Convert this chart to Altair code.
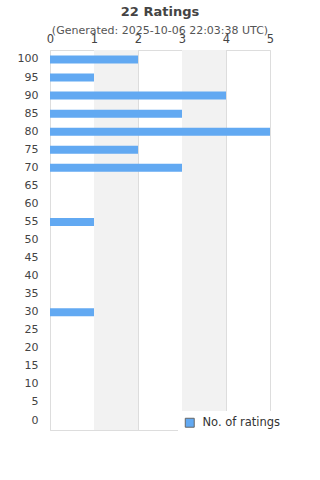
import altair as alt
import pandas as pd

ratings = [100, 95, 90, 85, 80, 75, 70, 65, 60, 55, 50, 45, 40, 35, 30, 25, 20, 15, 10, 5, 0]
counts = [2, 1, 4, 3, 5, 2, 3, 0, 0, 1, 0, 0, 0, 0, 1, 0, 0, 0, 0, 0, 0]
band_start = [1, 3]
band_end = [2, 4]
series_name = "No. of ratings"
title_text = "22 Ratings"
subtitle_text = "(Generated: 2025-10-06 22:03:38 UTC)"

df = pd.DataFrame({"rating": [str(r) for r in ratings], "count": counts, "series": series_name})
bands = pd.DataFrame({"start": band_start, "end": band_end})

font = "DejaVu Sans"
order = [str(r) for r in ratings]

xscale = alt.Scale(domain=[0, 5], nice=False)
xaxis = alt.Axis(orient="top", values=[0, 1, 2, 3, 4, 5], title=None, domain=False, ticks=False,
                 grid=True, gridColor="#dddddd", labelColor="#444444", labelFont=font,
                 labelFontSize=11.5, labelPadding=6, labelFlush=False, format="d")

bg = alt.Chart(bands).mark_rect(color="#f2f2f2").encode(
    x=alt.X("start:Q", scale=xscale, axis=xaxis),
    x2="end:Q",
)

bars = alt.Chart(df).mark_bar(size=8).encode(
    x=alt.X("count:Q", scale=xscale, axis=xaxis),
    y=alt.Y("rating:N", sort=order,
            scale=alt.Scale(paddingInner=0.55, paddingOuter=0.3),
            axis=alt.Axis(title=None, domain=True, domainColor="#dddddd", ticks=False,
                          labelColor="#444444", labelFont=font, labelFontSize=11, labelPadding=12)),
    color=alt.Color("series:N", scale=alt.Scale(range=["#62a9f2"]),
                    legend=alt.Legend(title=None, orient="none", legendX=128, legendY=361,
                                      fillColor="white", padding=6, symbolType="square",
                                      symbolStrokeColor="#666666", symbolStrokeWidth=1, symbolSize=80,
                                      labelOffset=7, labelFont=font, labelFontSize=11.5,
                                      labelColor="#333333")),
)

title = alt.Chart(df.head(1)).mark_text(font=font, fontSize=13, fontWeight="bold", color="#444444").encode(
    x=alt.value(110), y=alt.value(-38), text=alt.value(title_text))
subtitle = alt.Chart(df.head(1)).mark_text(font=font, fontSize=11, color="#555555").encode(
    x=alt.value(110), y=alt.value(-19), text=alt.value(subtitle_text))

chart = alt.layer(bg, bars, title, subtitle).properties(
    width=220, height=380,
    autosize=alt.AutoSizeParams(type="none"),
    padding={"left": 50, "top": 50, "right": 50, "bottom": 50},
    background="white",
).configure_view(stroke="#dddddd")

chart.save("out.html", embed_options={"renderer": "svg", "actions": False})
